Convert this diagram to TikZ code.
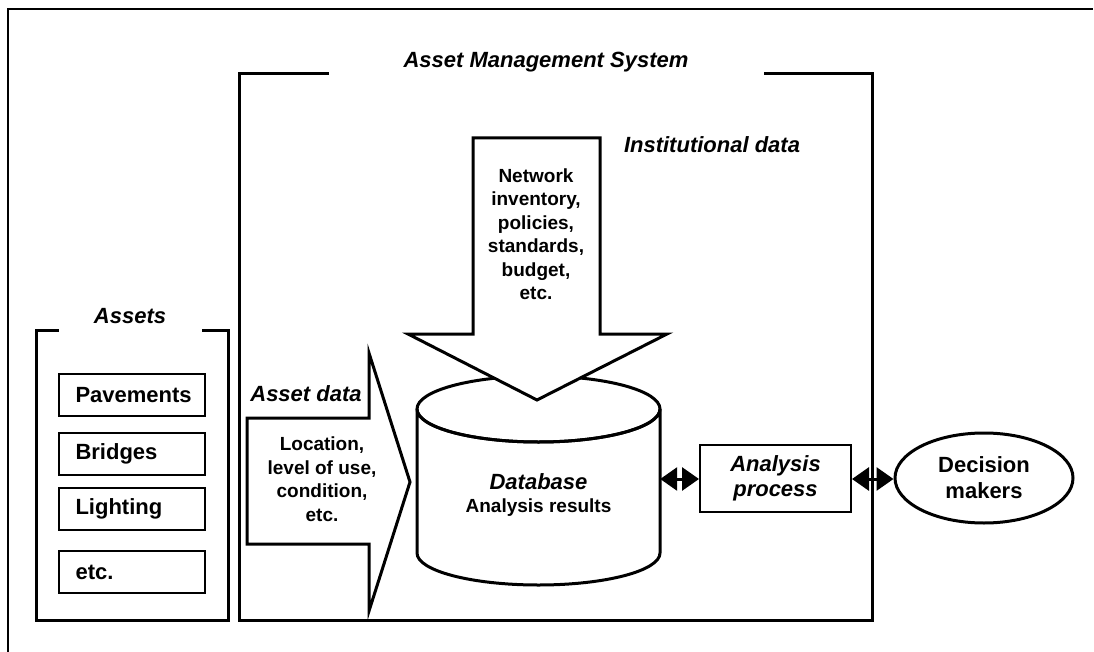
\documentclass[tikz,border=0pt]{standalone}
\usepackage{fontspec}
\setmainfont{Liberation Sans}
\usetikzlibrary{arrows.meta,shapes.geometric}
\tikzset{
  frame/.style={line width=3pt, line cap=rect},
  thinframe/.style={line width=2pt},
  bigarrow/.style={draw, fill=white, line width=3pt, line join=miter},
  itembox/.style={draw, line width=2pt, minimum width=146pt, minimum height=42pt, inner sep=0pt},
  itemtext/.style={font=\fontsize{22}{25}\selectfont\bfseries},
  title/.style={font=\fontsize{22}{25}\selectfont\bfseries\itshape},
  body/.style={font=\fontsize{19}{23.5}\selectfont\bfseries, align=center},
  dblarrow/.style={line width=3pt, {Triangle[width=23pt,length=17pt]}-{Triangle[width=23pt,length=17pt]}},
}
\begin{document}
\begin{tikzpicture}[x=1pt,y=-1pt]
\fill[white] (0,0) rectangle (1094,652);
\useasboundingbox (0,0) rectangle (1094,652);
% outer frame (cropped)
\draw[thinframe] (8,652) -- (8,9) -- (1093,9);

% Asset Management System frame
\draw[frame] (327,74) -- (239,74) -- (239,620) -- (872,620) -- (872,74) -- (765,74);
\node[title] (amstitle) at (546,62) {Asset Management System};

% Assets frame
\draw[frame] (57,330) -- (36,330) -- (36,620) -- (228,620) -- (228,330) -- (203,330);
\node[title] (assetstitle) at (130,316) {Assets};

\node[itembox] (pav) at (132,395) {};
\node[itemtext, anchor=west] (pavt) at (72,395) {Pavements};
\node[itembox] (bri) at (132,453.5) {};
\node[itemtext, anchor=west] (brit) at (72,453.5) {Bridges};
\node[itembox] (lig) at (132,508.5) {};
\node[itemtext, anchor=west] (ligt) at (72,508.5) {Lighting};
\node[itembox] (etc) at (132,572) {};
\node[itemtext, anchor=west] (etct) at (72,572) {etc.};

% Database cylinder
\draw[line width=3pt, fill=white] (417,409) -- (417,553) arc[start angle=180, end angle=0, x radius=121.5, y radius=32] -- (660,409) arc[start angle=0, end angle=180, x radius=121.5, y radius=33] -- cycle;
\draw[line width=3pt] (538.5,409) ellipse[x radius=121.5, y radius=33];
\node[inner sep=0pt, minimum width=243pt, minimum height=40pt] (db) at (538.5,479) {};
\node[title] (dbt) at (538.5,482) {Database};
\node[body] (dbr) at (538.5,508) {Analysis results};

% Institutional data arrow
\draw[bigarrow] (473,138) -- (600,138) -- (600,334) -- (667,334) -- (537,400) -- (408,334) -- (473,334) -- cycle;
\node[body] (inst) at (536,234) {Network\\inventory,\\policies,\\standards,\\budget,\\etc.};
\node[title] (insttitle) at (712,145) {Institutional data};

% Asset data arrow
\draw[bigarrow] (247,418) -- (369,418) -- (369,353) -- (410,482) -- (369,611) -- (369,544) -- (247,544) -- cycle;
\node[body] (adt) at (322,479) {Location,\\level of use,\\condition,\\etc.};
\node[title] (adtitle) at (306,394) {Asset data};

% Analysis process
\node[draw, line width=2pt, minimum width=151pt, minimum height=67pt, inner sep=0pt] (ap) at (775.5,478.5) {};
\node[title, align=center, font=\fontsize{22}{24.5}\selectfont\bfseries\itshape] (apt) at (775.5,478.5) {Analysis\\process};

% Decision makers
\node[draw, ellipse, line width=3pt, minimum width=178pt, minimum height=90pt, inner sep=0pt] (dm) at (984,478) {};
\node[itemtext, align=center, font=\fontsize{22}{26}\selectfont\bfseries] (dmt) at (984,478) {Decision\\makers};

% connectors
\draw[dblarrow] (db.east |- 0,479) -- (ap.west |- 0,479);
\draw[dblarrow] (ap.east |- 0,479) -- (dm.west |- 0,479);
\end{tikzpicture}
\end{document}
